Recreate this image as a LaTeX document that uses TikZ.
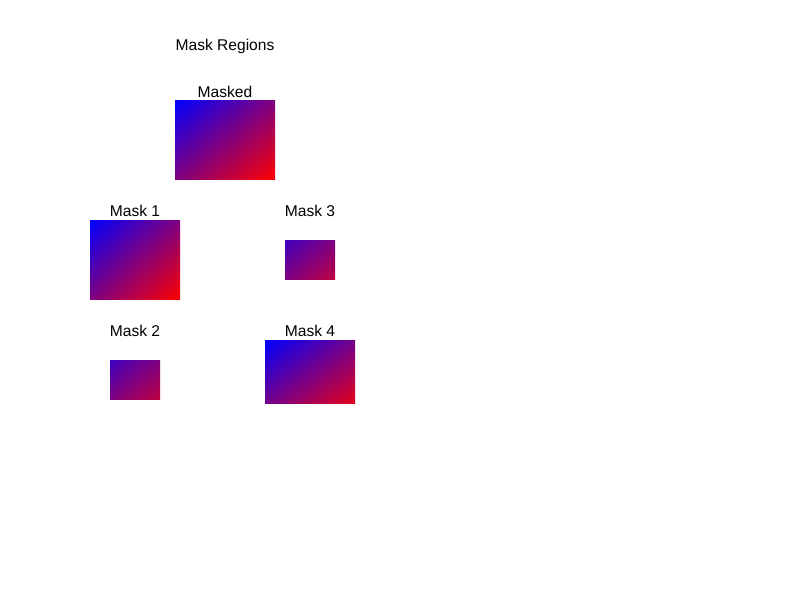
\documentclass[tikz,border=0pt]{standalone}
\usepackage{fontspec}
\setmainfont{Liberation Sans}
\usetikzlibrary{positioning,shadings}

\begin{document}
\begin{tikzpicture}[x=1pt, y=-1pt, every node/.style={font=\fontsize{15.6}{18}\selectfont},
        maskbox/.style={inner sep=0pt, outer sep=0pt, anchor=north west, shade},
        fullgrad/.style={upper left=blue, upper right=red!50!blue, lower left=red!50!blue, lower right=red},
        midgrad/.style={upper left=red!25!blue, upper right=red!50!blue, lower left=red!50!blue, lower right=red!75!blue},
        masklabel/.style={anchor=base}]
                \useasboundingbox (0,0) rectangle (800,600);
                \node[masklabel] (title) at (225,50.5) {Mask Regions};
                % boxes
                \node[maskbox, fullgrad, minimum width=100pt, minimum height=79.6pt] (masked) at (175,100) {};
                \node[maskbox, fullgrad, minimum width=90pt, minimum height=79.6pt] (m1) at (90,220) {};
                \node[maskbox, midgrad, minimum width=50pt, minimum height=39.6pt] (m3) at (285,240) {};
                \node[maskbox, midgrad, minimum width=50pt, minimum height=39.6pt] (m2) at (110,360) {};
                \node[maskbox, upper left=blue, upper right=red!45!blue, lower left=red!45!blue, lower right=red!90!blue, minimum width=90pt, minimum height=63.6pt] (m4) at (265,340) {};
                % labels
                \node[masklabel] (lmasked) at (225,97) {Masked};
                \node[masklabel] (l1) at (135,216) {Mask 1};
                \node[masklabel] (l3) at (310,216) {Mask 3};
                \node[masklabel] (l2) at (135,336) {Mask 2};
                \node[masklabel] (l4) at (310,336) {Mask 4};
            \end{tikzpicture}
\end{document}
